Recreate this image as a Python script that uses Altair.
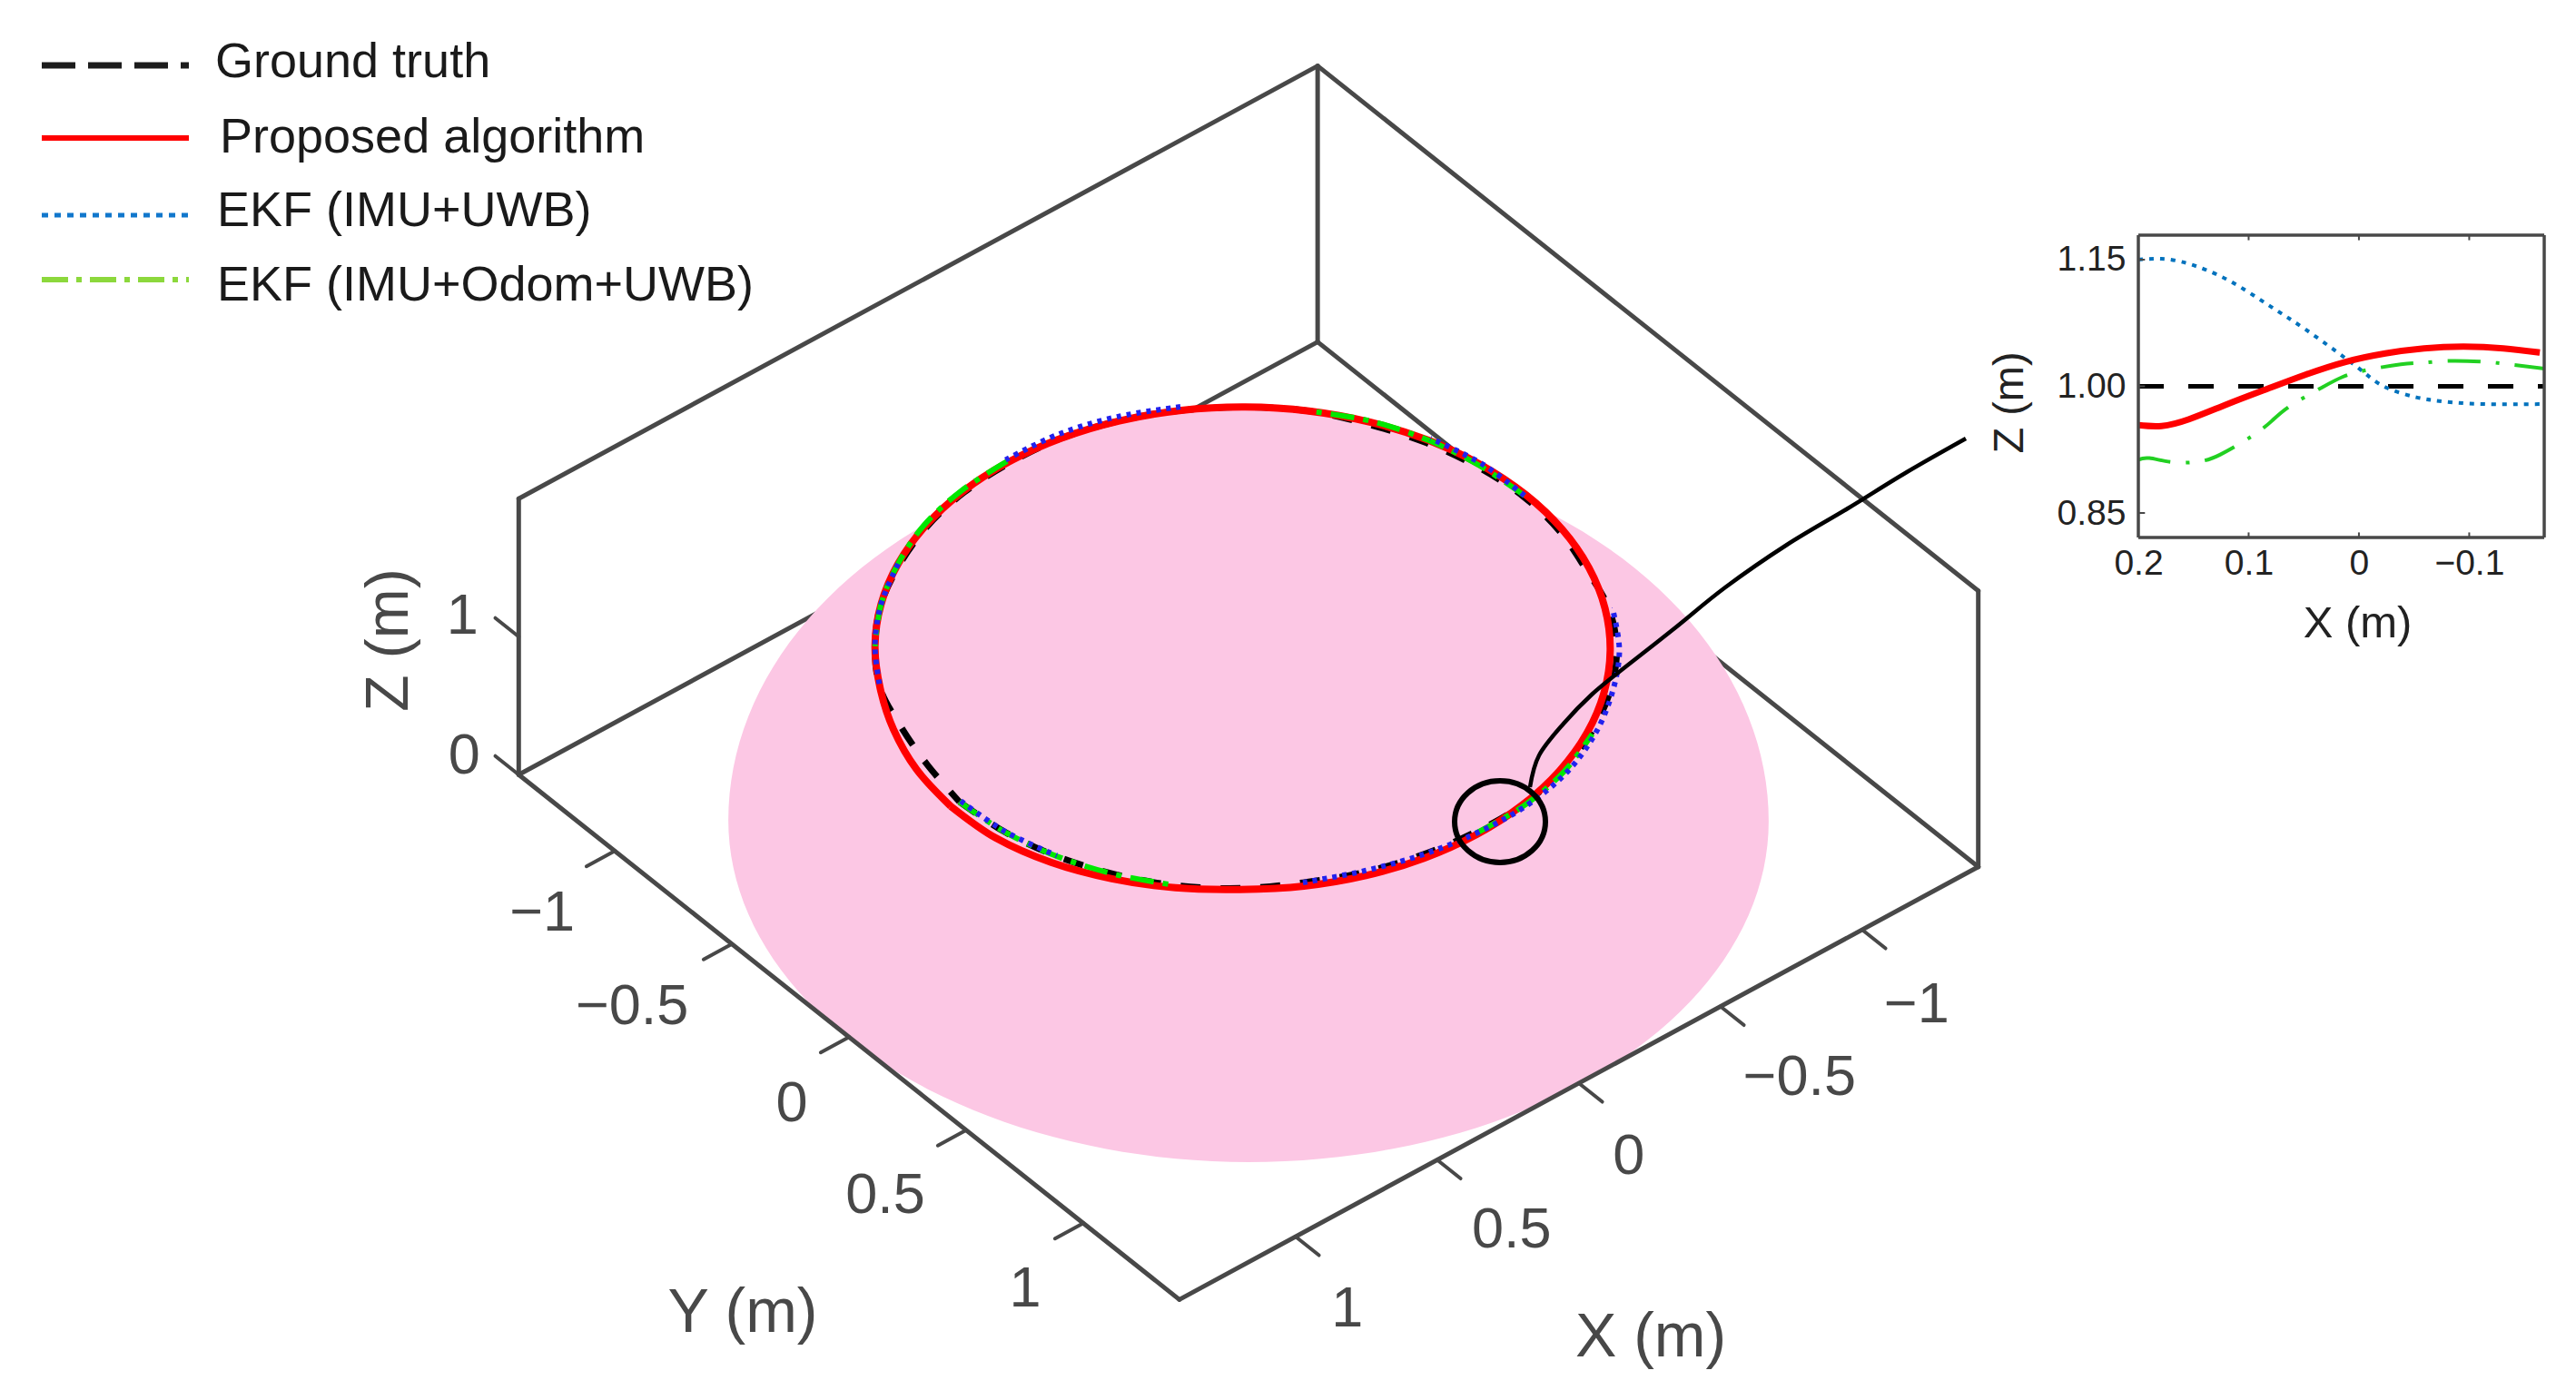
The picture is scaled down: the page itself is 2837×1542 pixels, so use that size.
import altair as alt
import pandas as pd
import numpy as np

W, H = 2820, 1520

# ---------- data ----------
# ring radius (m) per azimuth (deg); None = that curve is not visible there
azimuth = [0,10,20,30,40,50,60,70,80,90,100,110,120,130,140,150,160,170,180,190,200,210,220,230,240,250,260,270,280,290,300,310,320,330,340,350,360]
ground_truth = [1.00,1.00,1.00,1.00,1.00,0.995,0.985,0.985,0.985,0.99,1.00,1.005,1.01,1.015,1.018,1.01,0.99,0.99,0.99,0.988,0.988,0.99,1.00,1.00,1.00,1.00,1.00,0.995,0.995,0.995,0.995,1.00,1.00,1.00,0.985,0.985,1.00]
proposed = [1.03,1.035,1.03,1.02,1.01,1.00,1.00,1.00,1.00,1.00,1.00,1.00,1.00,1.00,1.00,1.00,1.00,1.00,1.00,1.00,1.00,1.00,1.00,1.00,1.00,1.00,1.00,1.00,1.00,1.00,1.00,1.00,1.00,1.00,1.008,1.02,1.03]
ekf_imu_uwb = [0.995,0.998,0.998,None,None,None,0.985,0.98,0.985,0.995,1.01,1.02,1.022,1.022,1.025,1.02,None,None,0.995,1.005,1.01,None,None,None,1.015,1.018,1.018,1.012,None,None,1.00,1.00,1.00,1.00,None,None,0.995]
ekf_imu_odom_uwb = [1.00,1.00,1.00,1.00,1.00,None,None,None,None,0.995,1.005,1.012,1.015,None,None,None,None,None,0.995,0.995,1.00,1.005,1.00,None,None,None,None,1.005,1.005,1.005,1.00,1.00,1.00,None,None,None,1.00]

# inset, Z (m) against X (m)
inset_gt_x = [0.20,-0.168]
inset_gt_z = [1.00,1.00]
inset_red_x = [0.20,0.179,0.154,0.119,0.083,0.048,0.012,-0.024,-0.059,-0.095,-0.131,-0.164]
inset_red_z = [0.954,0.953,0.961,0.979,0.997,1.014,1.029,1.039,1.045,1.047,1.045,1.040]
inset_blue_x = [0.20,0.179,0.154,0.119,0.083,0.048,0.012,-0.006,-0.024,-0.052,-0.077,-0.113,-0.168]
inset_blue_z = [1.150,1.151,1.145,1.126,1.097,1.067,1.033,1.015,0.999,0.987,0.982,0.979,0.979]
inset_green_x = [0.20,0.19,0.168,0.145,0.126,0.097,0.079,0.062,0.033,0.015,-0.006,-0.038,-0.059,-0.081,-0.113,-0.136,-0.168]
inset_green_z = [0.913,0.915,0.910,0.911,0.919,0.941,0.959,0.977,0.999,1.011,1.019,1.026,1.028,1.030,1.029,1.026,1.021]

axis_ticks = [-1,-0.5,0,0.5,1]
axis_tick_labels = ["\u22121","\u22120.5","0","0.5","1"]
z_ticks = [0,1]
z_tick_labels = ["0","1"]
legend_labels = ["Ground truth","Proposed algorithm","EKF (IMU+UWB)","EKF (IMU+Odom+UWB)"]
inset_x_ticks = [0.2,0.1,0,-0.1]
inset_z_ticks = [1.15,1.00,0.85]

# ---------- view of the 3D box ----------
CX, CY = 1375, 904
UX, VX = -312, 169
UY, VY = 258, 205
VZ = -152
BX, BY, BZ = 1.41, 1.41, 2.0
RING_Z, RX0, RY0 = 1.25, 0.0124, -0.0102

def proj(x, y, z):
    return CX + UX*x + UY*y, CY + VX*x + VY*y + VZ*z

FONT = "Liberation Sans"
GREY = "#484848"
MX = alt.Scale(domain=[8, 8+W], range=[0, W], nice=False, zero=False)
MY = alt.Scale(domain=[8, 8+H], range=[0, H], nice=False, zero=False)
IX = alt.Scale(domain=[0.2, -0.168], range=[2355-8, 2802-8], nice=False, zero=False)
IY = alt.Scale(domain=[0.821, 1.179], range=[592-8, 259-8], nice=False, zero=False)

def X(f): return alt.X(f, type="quantitative", scale=MX, axis=None)
def Y(f): return alt.Y(f, type="quantitative", scale=MY, axis=None)
def IXe(f): return alt.X(f, type="quantitative", scale=IX, axis=None)
def IYe(f): return alt.Y(f, type="quantitative", scale=IY, axis=None)

def segs(pairs):
    rows = []
    for a, b in pairs:
        p, q = proj(*a), proj(*b)
        rows.append(dict(x=p[0], y=p[1], x2=q[0], y2=q[1]))
    return pd.DataFrame(rows)

def rules(df, width=5, color=GREY, **kw):
    return alt.Chart(df).mark_rule(color=color, strokeWidth=width, strokeCap="round", **kw).encode(
        x=X("x"), y=Y("y"), x2=alt.X2("x2"), y2=alt.Y2("y2"))

def disc(r, z, x0=0.0, y0=0.0, top_stretch=1.0):
    tu = np.arctan2(UY, UX)
    t = np.radians(np.arange(0, 181, 2.0))
    a, b = tu + t, tu - t
    xa, ya = proj(x0 + r*np.cos(a), y0 + r*np.sin(a), z)
    xc, yc = proj(x0, y0, z)
    _, yb = proj(x0 + r*np.cos(b), y0 + r*np.sin(b), z)
    ylow, yhigh = np.maximum(ya, yb), np.minimum(ya, yb)
    return pd.DataFrame(dict(x=xa, y=ylow, y2=yc + (yhigh - yc)*top_stretch))

def pink(df):
    return alt.Chart(df).mark_area(color="#FCC7E4", opacity=1, interpolate="linear").encode(
        x=X("x"), y=Y("y"), y2=alt.Y2("y2"))

def ring(values):
    rows = []
    for a, r in zip(azimuth, values):
        if r is None:
            rows.append(dict(i=a, x=None, y=None))
        else:
            t = np.radians(a)
            u, v = proj(RX0 + r*np.cos(t), RY0 + r*np.sin(t), RING_Z)
            rows.append(dict(i=a, x=float(u), y=float(v)))
    return pd.DataFrame(rows)

def ring_line(values, color, width, dash=None):
    kw = dict(strokeDash=dash) if dash else {}
    return alt.Chart(ring(values)).mark_line(color=color, strokeWidth=width, interpolate="cardinal", tension=0, **kw).encode(
        x=X("x"), y=Y("y"), order=alt.Order("i:Q"))

# box
L, B, R, K = (BX,-BY), (BX,BY), (-BX,BY), (-BX,-BY)
back = segs([(L+(0,),K+(0,)), (K+(0,),R+(0,)), (L+(0,),L+(BZ,)), (K+(0,),K+(BZ,)), (R+(0,),R+(BZ,)),
             (L+(BZ,),K+(BZ,)), (K+(BZ,),R+(BZ,))])
front = segs([(L+(0,),B+(0,)), (B+(0,),R+(0,))])
y_ticks_df = segs([((BX,t,0),(BX+0.1,t,0)) for t in axis_ticks])
x_ticks_df = segs([((t,BY,0),(t,BY+0.1,0)) for t in axis_ticks])
z_ticks_df = segs([((BX,-BY,t),(BX,-BY-0.1,t)) for t in z_ticks])

def labels(texts, tick_points, offsets, size=63, color=GREY):
    rows = []
    for s, p, o in zip(texts, tick_points, offsets):
        q = proj(*p)
        rows.append(dict(t=s, x=q[0]+o[0], y=q[1]+o[1]))
    return alt.Chart(pd.DataFrame(rows)).mark_text(font=FONT, fontSize=size, color=color, align="center", baseline="middle").encode(
        x=X("x"), y=Y("y"), text="t:N")

y_labels = labels(axis_tick_labels, [(BX,t,0) for t in axis_ticks], [(-80,69),(-110,69),(-63,74),(-89,72),(-64,73)])
x_labels = labels(axis_tick_labels, [(t,BY,0) for t in axis_ticks], [(60,83),(87,78),(55,81),(82,77),(57,80)])
z_labels = labels(z_tick_labels, [(BX,-BY,t) for t in z_ticks], [(-60,-20),(-62,-22)])

def one_text(s, x, y, size, color=GREY, angle=0, align="center"):
    return alt.Chart(pd.DataFrame(dict(t=[s], x=[x], y=[y]))).mark_text(
        font=FONT, fontSize=size, color=color, angle=angle, align=align, baseline="middle").encode(
        x=X("x"), y=Y("y"), text="t:N")

titles = [one_text("Y (m)", 818, 1447, 68), one_text("X (m)", 1818, 1474, 68),
          one_text("Z (m)", 429, 705, 66, angle=270)]

# annotation
callout = pd.DataFrame(dict(i=range(11),
    x=[1685,1695,1722,1753,1787,1843,1900,1968,2035,2100,2165],
    y=[867,832,797,765,737,693,647,600,560,520,483]))
callout_line = alt.Chart(callout).mark_line(color="black", strokeWidth=4.5, interpolate="cardinal", tension=0).encode(
    x=X("x"), y=Y("y"), order=alt.Order("i:Q"))
marker = alt.Chart(pd.DataFrame(dict(x=[1652], y=[905]))).mark_point(
    shape="M-1,0A1,0.9,0,1,1,1,0A1,0.9,0,1,1,-1,0Z", size=10000, filled=False, color="black", strokeWidth=6, opacity=1).encode(
    x=X("x"), y=Y("y"))

# legend
leg_y = [72, 152, 237, 308]
leg_tx = [237, 242, 239, 239]
leg_ty = [69, 152, 233, 315]
leg_style = [("#1c1c1c",7,[37,14]), ("#FF0000",6,None), ("#1177CC",5,[7,7]), ("#8CD83C",6,[29,9,6,9])]
legend = []
for yy, tx, ty, s, st in zip(leg_y, leg_tx, leg_ty, legend_labels, leg_style):
    kw = dict(strokeDash=st[2]) if st[2] else {}
    legend.append(alt.Chart(pd.DataFrame(dict(x=[46], y=[yy], x2=[208]))).mark_rule(color=st[0], strokeWidth=st[1], **kw).encode(
        x=X("x"), y=Y("y"), x2=alt.X2("x2")))
    legend.append(one_text(s, tx, ty, 54, color="#1a1a1a", align="left"))

# inset
def inset_line(xs, zs, color, width, dash=None):
    kw = dict(strokeDash=dash) if dash else {}
    df = pd.DataFrame(dict(i=range(len(xs)), x=xs, z=zs))
    return alt.Chart(df).mark_line(color=color, strokeWidth=width, interpolate="natural", clip=True, **kw).encode(
        x=IXe("x"), y=IYe("z"), order=alt.Order("i:Q"))

x_axis = alt.Axis(orient="bottom", offset=(592-8)-H, values=inset_x_ticks, format="~g", ticks=False, domain=False, grid=False,
                  labelFont=FONT, labelFontSize=39, labelColor="#222222", labelPadding=9, labelAngle=0, labelFlush=False,
                  title="X (m)", titleFont=FONT, titleFontSize=49, titleFontWeight="normal", titleColor="#222222",
                  titlePadding=22, titleX=2596-8)
y_axis = alt.Axis(orient="left", offset=-(2355-8), values=inset_z_ticks, format=".2f", ticks=False, domain=False, grid=False,
                  labelFont=FONT, labelFontSize=39, labelColor="#222222", labelPadding=14,
                  title="Z (m)", titleFont=FONT, titleFontSize=47, titleFontWeight="normal", titleColor="#222222",
                  titlePadding=28, titleY=443-8)
inset_axes = alt.Chart(pd.DataFrame(dict(x=[0.2], z=[1.0]))).mark_point(opacity=0).encode(
    x=alt.X("x", type="quantitative", scale=IX, axis=x_axis),
    y=alt.Y("z", type="quantitative", scale=IY, axis=y_axis))

XLO, XHI, ZLO, ZHI = 0.2, -0.168, 0.821, 1.179
frame_df = pd.DataFrame(dict(x=[XLO,XHI,XLO,XLO], x2=[XLO,XHI,XHI,XHI], z=[ZLO,ZLO,ZLO,ZHI], z2=[ZHI,ZHI,ZLO,ZHI]))
frame = alt.Chart(frame_df).mark_rule(color=GREY, strokeWidth=3.5).encode(
    x=IXe("x"), x2=alt.X2("x2"), y=IYe("z"), y2=alt.Y2("z2"))
itick_rows = []
for t in inset_x_ticks[1:]:
    itick_rows += [dict(x=t,x2=t,z=ZLO,z2=ZLO+0.006), dict(x=t,x2=t,z=ZHI,z2=ZHI-0.006)]
for t in inset_z_ticks:
    itick_rows += [dict(x=XLO,x2=XLO-0.006,z=t,z2=t)]
iticks = alt.Chart(pd.DataFrame(itick_rows)).mark_rule(color=GREY, strokeWidth=2).encode(
    x=IXe("x"), x2=alt.X2("x2"), y=IYe("z"), y2=alt.Y2("z2"))

layers = [
    rules(back),
    pink(disc(1.415, 0, top_stretch=1.107)),
    pink(disc(1.0, RING_Z, RX0, RY0)),
    rules(front), rules(y_ticks_df, 4), rules(x_ticks_df, 4), rules(z_ticks_df, 4),
    y_labels, x_labels, z_labels, *titles,
    ring_line(ground_truth, "#000000", 7, [22,22]),
    ring_line(proposed, "#FF0000", 8),
    ring_line(ekf_imu_odom_uwb, "#00E800", 6, [26,10,6,10]),
    ring_line(ekf_imu_uwb, "#2222EE", 6, [5,6]),
    callout_line, marker,
    *legend,
    inset_line(inset_gt_x, inset_gt_z, "#000000", 5, [28,27]),
    inset_line(inset_blue_x, inset_blue_z, "#0072BD", 4, [5,7]),
    inset_line(inset_red_x, inset_red_z, "#FF0000", 7),
    inset_line(inset_green_x, inset_green_z, "#22D022", 4, [36,17,4,17]),
    frame, iticks, inset_axes,
]

chart = alt.layer(*layers).resolve_scale(x="independent", y="independent").resolve_axis(x="independent", y="independent").properties(
    width=W, height=H, padding=0, autosize=alt.AutoSizeParams(type="none"), background="white"
).configure_view(stroke=None)

chart.save("out.html", embed_options={"renderer": "svg", "actions": False})
